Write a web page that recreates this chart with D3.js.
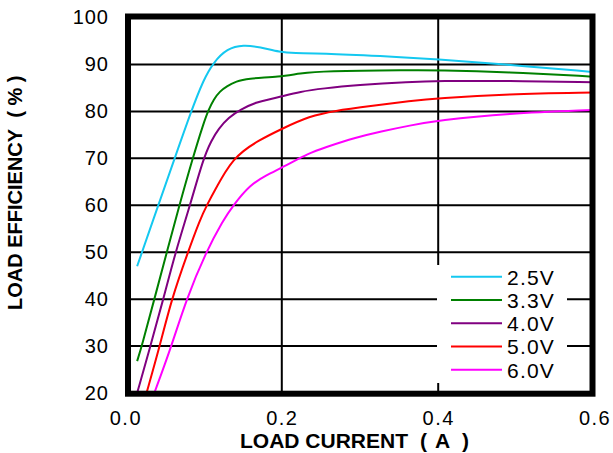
<!DOCTYPE html>
<html>
<head>
<meta charset="utf-8">
<script src="https://cdn.jsdelivr.net/npm/d3@7"></script>
<style>
  html, body { margin: 0; padding: 0; background: #fff; }
  svg { display: block; font-family: "Liberation Sans", Arial, sans-serif; }
</style>
</head>
<body>
<svg id="chart" width="613" height="453"></svg>
<script>
// Load efficiency vs. load current, one curve per input voltage
const seriesNames = ["2.5V", "3.3V", "4.0V", "5.0V", "6.0V"];
const seriesColors = ["#14c8f0", "#008000", "#800080", "#ff0000", "#ff00ff"];

const eff25 = [[0.015,47],[0.042,60],[0.063,70],[0.084,80],[0.1,86.8],[0.1125,90.4],[0.13,93.4],[0.151,94.2],[0.172,93.7],[0.198,92.6],[0.215,92.4],[0.25,92.4],[0.326,91.8],[0.4,91.1],[0.479,90.1],[0.597,88.4]];
const eff33 = [[0.015,26.8],[0.021,30],[0.037,40],[0.053,50],[0.069,60],[0.086,70],[0.1,77.5],[0.106,80.2],[0.113,82.6],[0.121,84.3],[0.13,85.4],[0.142,86.4],[0.155,87.0],[0.198,87.4],[0.223,88.1],[0.253,88.6],[0.364,88.8],[0.4,88.8],[0.488,88.4],[0.598,87.4]];
const eff40 = [[0.015,20],[0.032,30],[0.0485,40],[0.064,50],[0.0827,60],[0.0997,70],[0.11,73.8],[0.119,76.3],[0.132,78.7],[0.147,80.4],[0.168,82.0],[0.185,82.6],[0.2,83.2],[0.223,84.2],[0.253,84.9],[0.296,85.6],[0.364,86.3],[0.4,86.5],[0.488,86.5],[0.598,86.2]];
const eff50 = [[0.027,20],[0.044,30],[0.059,40],[0.08,50],[0.095,56.8],[0.105,60.3],[0.115,63.4],[0.128,67.2],[0.138,69.6],[0.15,71.5],[0.168,73.6],[0.2,76.3],[0.236,79],[0.266,80.1],[0.317,81.2],[0.364,82.2],[0.4,82.8],[0.488,83.7],[0.598,84.0]];
const eff60 = [[0.037,20],[0.059,30],[0.078,40],[0.103,50],[0.125,56.8],[0.138,60],[0.159,64.3],[0.18,66.4],[0.2,68.0],[0.236,71.2],[0.253,72.2],[0.296,74.5],[0.326,75.7],[0.364,77.0],[0.4,78.1],[0.488,79.6],[0.598,80.3]];

const xTicks = [0, 0.2, 0.4, 0.6];
const yTicks = [20, 30, 40, 50, 60, 70, 80, 90, 100];

const xTitleParts = ["LOAD CURRENT", "(", "A", ")"];
const yTitle = "LOAD EFFICIENCY\u00a0\u00a0( % )";

const allSeries = [eff25, eff33, eff40, eff50, eff60];

const svg = d3.select("#chart");

const x = d3.scaleLinear().domain([0, 0.6]).range([125.4, 594.6]);
const y = d3.scaleLinear().domain([20, 100]).range([393, 17.5]);

const frame = { left: 128, right: 592.5, top: 16.5, bottom: 393.7 };

svg.append("defs").append("clipPath").attr("id", "plotClip")
  .append("rect")
  .attr("x", frame.left).attr("y", frame.top)
  .attr("width", frame.right - frame.left).attr("height", frame.bottom - frame.top);

// grid
const grid = svg.append("g");
grid.selectAll("line.h").data(yTicks.filter(v => v > 20 && v < 100)).join("line")
  .attr("x1", frame.left).attr("x2", frame.right)
  .attr("y1", d => y(d)).attr("y2", d => y(d))
  .attr("stroke", "#000").attr("stroke-width", 2);
grid.selectAll("line.v").data(xTicks.filter(v => v > 0 && v < 0.6)).join("line")
  .attr("y1", frame.top).attr("y2", frame.bottom)
  .attr("x1", d => x(d)).attr("x2", d => x(d))
  .attr("stroke", "#000").attr("stroke-width", 2);

// curves
const line = d3.line().x(d => x(d[0])).y(d => y(d[1])).curve(d3.curveBasis);
svg.append("g").attr("clip-path", "url(#plotClip)")
  .selectAll("path").data(allSeries).join("path")
  .attr("d", line)
  .attr("fill", "none")
  .attr("stroke", (d, i) => seriesColors[i])
  .attr("stroke-width", 2);

// legend
const lg = svg.append("g");
lg.append("rect").attr("x", 437).attr("y", 265).attr("width", 130).attr("height", 118).attr("fill", "#fff");
const rowY = i => 276.7 + i * 23.25;
lg.selectAll("line").data(seriesNames).join("line")
  .attr("x1", 451).attr("x2", 502)
  .attr("y1", (d, i) => rowY(i)).attr("y2", (d, i) => rowY(i))
  .attr("stroke", (d, i) => seriesColors[i]).attr("stroke-width", 2);
lg.selectAll("text").data(seriesNames).join("text")
  .attr("x", 507).attr("y", (d, i) => rowY(i) + 8)
  .attr("font-size", 21).attr("letter-spacing", 1.2).attr("fill", "#000")
  .text(d => d);

// frame
svg.append("rect")
  .attr("x", frame.left).attr("y", frame.top)
  .attr("width", frame.right - frame.left).attr("height", frame.bottom - frame.top)
  .attr("fill", "none").attr("stroke", "#000").attr("stroke-width", 6);

// axes (labels only)
const xAxis = d3.axisBottom(x).tickValues(xTicks).tickFormat(d3.format(".1f")).tickSize(0).tickPadding(0);
const gx = svg.append("g").attr("transform", "translate(0,410.5)").call(xAxis);
gx.select(".domain").remove();
gx.selectAll("text").attr("font-size", 20).attr("letter-spacing", 1.5).attr("fill", "#000")
  .attr("font-family", "Liberation Sans, Arial, sans-serif").attr("dy", "0.71em");

const yAxis = d3.axisLeft(y).tickValues(yTicks).tickFormat(d3.format("d")).tickSize(0).tickPadding(0);
const gy = svg.append("g").attr("transform", "translate(109,0)").call(yAxis);
gy.select(".domain").remove();
gy.selectAll("text").attr("font-size", 20).attr("letter-spacing", 1).attr("fill", "#000")
  .attr("font-family", "Liberation Sans, Arial, sans-serif");

// titles
const xt = svg.append("text").attr("y", 448)
  .attr("font-size", 21).attr("font-weight", "bold").attr("fill", "#000");
const xtPos = [240, 420, 435, 462];
xt.selectAll("tspan").data(xTitleParts).join("tspan")
  .attr("x", (d, i) => xtPos[i]).text(d => d);

svg.append("text").attr("transform", "translate(22,310) rotate(-90)")
  .attr("font-size", 20).attr("font-weight", "bold").attr("fill", "#000")
  .text(yTitle);
</script>
</body>
</html>
